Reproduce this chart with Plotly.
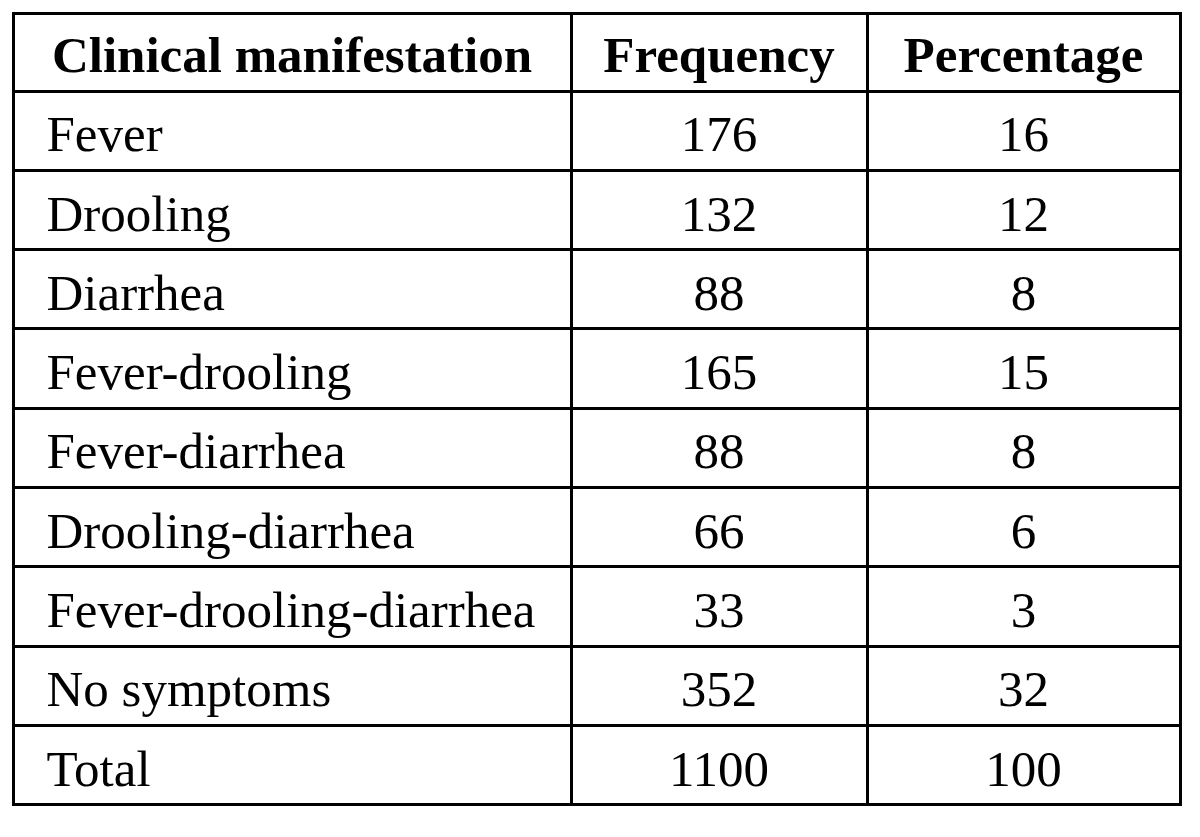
import plotly.graph_objects as go

header_labels = ["Clinical manifestation", "Frequency", "Percentage"]
manifestations = ["Fever", "Drooling", "Diarrhea", "Fever-drooling", "Fever-diarrhea",
                  "Drooling-diarrhea", "Fever-drooling-diarrhea", "No symptoms", "Total"]
frequency = [176, 132, 88, 165, 88, 66, 33, 352, 1100]
percentage = [16, 12, 8, 15, 8, 6, 3, 32, 100]

W, H = 1200, 837
off = 8                      # plotly's internal table offset
x0, x1 = 13 - off, 1180 - off
top = 13 - off
head_h, row_h = 78, 79.3
col_w = [558, 296, 313]
head_shift, body_shift = 6, 14   # push text lower inside its cell

FONT = dict(family="Liberation Serif", size=51, color="black")
CLEAR = "rgba(0,0,0,0)"
n = len(manifestations)

# grid (borders only)
grid = go.Table(
    domain=dict(x=[x0 / W, x1 / W], y=[0, 1 - top / H]),
    columnwidth=col_w,
    header=dict(values=["", "", ""], height=head_h, font=FONT,
                fill_color="white", line=dict(color="black", width=3)),
    cells=dict(values=[[""] * n] * 3, height=row_h, font=FONT,
               fill_color="white", line=dict(color="black", width=3)),
    hoverinfo="skip",
)

# text layer, offset downwards inside the cells
t_top = top + head_shift
text = go.Table(
    domain=dict(x=[x0 / W, x1 / W], y=[0, 1 - t_top / H]),
    columnwidth=col_w,
    header=dict(values=["<b>%s</b>" % h for h in header_labels],
                align="center", height=head_h + body_shift - head_shift, font=FONT,
                fill_color=CLEAR, line=dict(color=CLEAR, width=3)),
    cells=dict(values=[["\u00a0\u00a0" + m for m in manifestations],
                       [str(v) for v in frequency],
                       [str(v) for v in percentage]],
               align=["left", "center", "center"], height=row_h, font=FONT,
               fill_color=CLEAR, line=dict(color=CLEAR, width=3)),
)

fig = go.Figure([grid, text])
fig.update_layout(width=W, height=H, margin=dict(l=0, r=0, t=0, b=0),
                  paper_bgcolor="white", plot_bgcolor="white")
fig.write_html("out.html")
